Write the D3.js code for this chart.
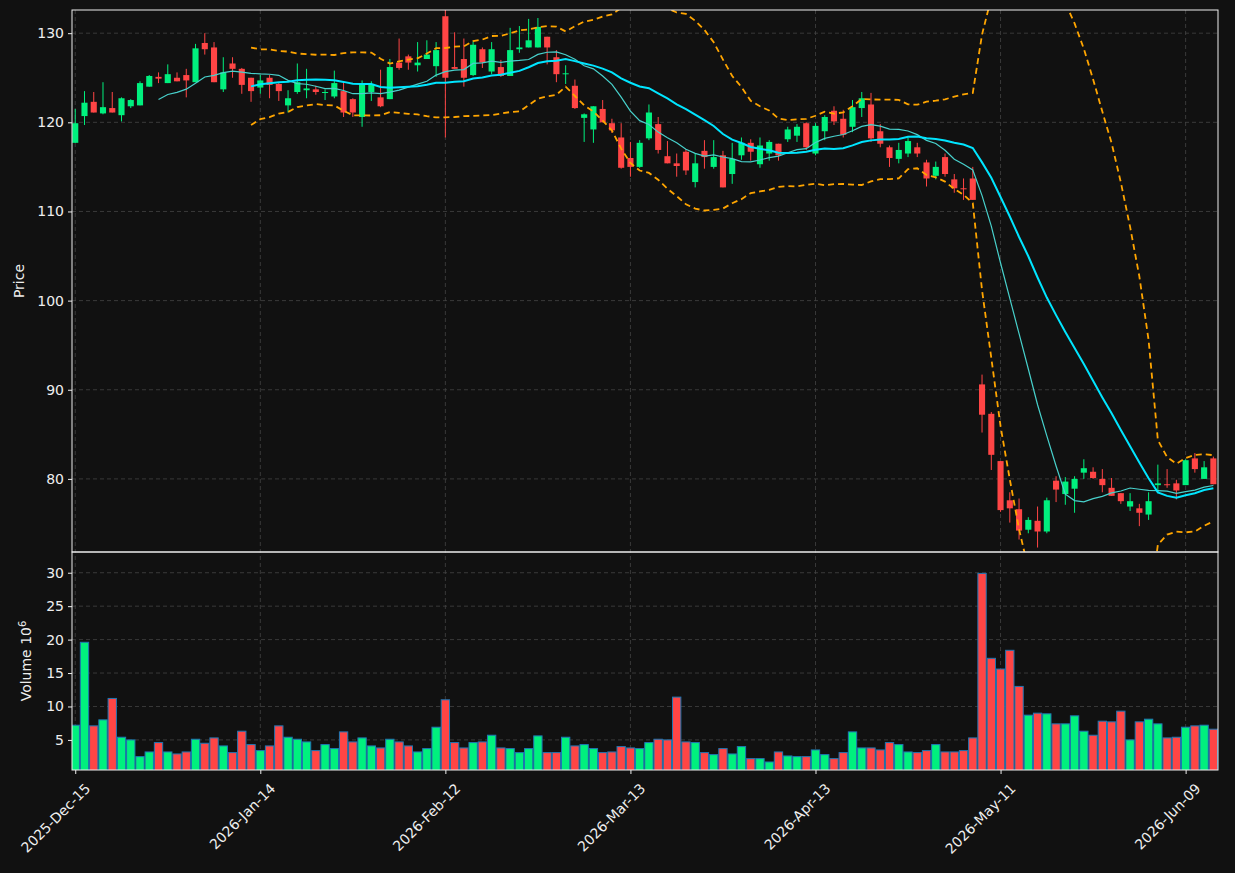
<!DOCTYPE html>
<html><head><meta charset="utf-8">
<script src="https://cdn.jsdelivr.net/npm/d3@7"></script>
<style>body{margin:0;background:#111111;}text{font-family:"DejaVu Sans",sans-serif;}</style>
</head><body>
<svg id="chart" width="1235" height="873"></svg>
<script>
var opens = [117.7,120.7,122.3,121.0,121.6,120.8,121.8,121.9,124.0,125.1,124.4,125.0,125.3,124.5,128.9,128.4,123.7,126.6,126.0,125.0,
  123.9,125.0,124.3,121.9,123.4,123.6,123.7,123.3,122.9,123.5,122.6,120.6,123.4,122.8,122.6,126.7,127.4,126.4,127.1,126.3,
  131.9,126.2,127.1,125.3,128.2,125.7,126.2,125.2,128.2,128.4,128.4,129.6,127.3,125.4,124.1,120.5,119.2,121.5,119.9,118.3,
  116.0,115.0,118.2,119.8,116.2,115.4,116.7,113.3,116.8,115.0,116.3,114.2,116.3,117.7,115.3,116.5,117.6,118.1,118.5,119.9,
  116.5,119.0,121.3,120.4,119.5,121.6,122.0,119.0,117.2,115.9,116.5,117.2,115.5,114.0,116.1,113.6,112.6,113.7,90.6,87.3,
  82.0,77.6,76.6,74.3,75.3,74.1,79.8,78.3,78.9,80.7,80.8,80.0,79.0,78.4,76.9,76.7,76.0,79.3,79.4,79.5,
  79.3,82.3,80.0,82.3];
var closes = [119.9,122.2,121.1,121.7,121.1,122.7,122.5,124.4,125.2,124.9,125.4,124.6,124.7,128.3,128.2,124.5,125.6,126.0,124.2,123.5,
  124.7,124.2,123.5,122.7,124.5,123.8,123.4,123.4,124.4,121.1,121.1,124.4,124.3,121.8,126.2,126.1,126.7,126.7,127.6,128.1,
  125.0,126.0,125.0,128.7,126.7,128.2,125.2,128.1,128.4,129.2,130.7,128.4,125.4,125.5,121.6,120.9,121.8,120.0,119.1,114.9,
  115.0,117.7,121.1,116.9,115.4,115.1,114.6,115.4,116.1,116.1,112.7,115.9,117.7,116.7,117.4,117.8,116.3,119.2,119.5,117.2,
  119.6,120.6,120.1,118.6,121.7,122.7,118.2,117.6,116.0,116.9,117.9,116.5,113.7,115.0,114.2,112.6,112.5,111.3,87.2,82.7,
  76.5,76.7,74.2,75.4,74.1,77.6,78.8,79.7,80.0,81.2,80.1,79.3,78.1,77.5,77.5,76.2,77.5,79.5,79.3,78.7,
  82.1,81.1,81.3,79.4];
var highs = [121.5,123.5,123.4,124.5,123.4,122.8,122.6,124.6,125.3,125.6,126.5,125.6,126.0,128.8,130.0,129.0,127.3,127.3,126.1,125.0,
  125.3,125.3,124.4,123.6,126.6,126.0,124.1,123.7,125.8,124.6,122.7,124.7,124.6,125.9,127.1,129.4,127.6,129.0,129.2,129.0,
  133.0,130.1,129.4,129.1,128.4,129.0,127.0,130.6,130.8,131.6,131.7,129.6,128.1,126.4,124.8,121.0,121.8,122.5,120.4,119.9,
  117.8,118.0,122.0,120.6,117.9,116.5,117.0,116.5,118.0,118.0,116.8,117.7,118.3,118.1,118.3,118.0,117.6,119.5,119.8,120.0,
  119.9,120.8,121.8,121.4,122.5,123.4,123.3,119.8,117.4,117.7,118.3,117.7,115.8,115.6,116.5,114.2,113.7,115.0,91.7,87.5,
  82.0,78.5,77.8,75.7,76.9,77.9,80.3,80.2,80.3,82.2,81.3,81.1,80.1,78.4,78.4,77.2,78.5,81.6,81.1,79.9,
  82.2,82.9,82.0,82.5];
var lows = [117.7,119.7,121.1,120.9,121.1,120.1,121.6,121.9,124.0,124.4,124.4,124.6,122.8,124.5,127.6,124.5,123.4,125.0,123.2,122.3,
  123.2,122.7,122.4,121.1,123.2,122.7,123.1,122.5,122.7,120.6,120.6,119.5,122.4,121.7,122.6,125.9,125.9,125.7,127.1,125.1,
  118.3,126.0,124.0,125.2,126.1,125.4,125.1,127.6,127.8,128.4,128.4,126.5,124.5,124.3,121.5,117.8,117.7,120.0,118.8,114.8,
  113.9,114.9,118.0,116.5,115.4,113.9,114.1,112.7,114.8,114.8,112.7,113.1,115.8,115.7,114.9,115.7,115.7,117.8,117.8,116.9,
  116.3,118.0,119.7,118.3,118.9,120.6,117.8,117.2,115.0,115.4,116.1,116.1,112.8,113.6,113.9,112.1,111.3,111.3,85.2,81.0,
  76.3,75.1,73.2,73.9,72.3,73.9,77.4,77.1,76.2,80.0,80.0,78.5,78.1,77.2,76.4,74.7,75.4,78.4,79.0,77.7,
  79.3,80.7,80.0,79.4];
var volumes = [7.2,19.6,7.1,8.0,11.2,5.4,5.0,2.5,3.2,4.6,3.2,2.9,3.2,5.1,4.5,5.3,4.1,3.1,6.3,4.3,
  3.4,4.1,7.1,5.4,5.1,4.7,3.4,4.3,3.7,6.2,4.7,5.3,4.1,3.8,5.1,4.7,4.1,3.2,3.7,6.9,
  11.0,4.6,3.8,4.6,4.7,5.7,3.8,3.7,3.1,3.7,5.6,3.1,3.1,5.4,4.1,4.3,3.7,3.1,3.2,4.0,
  3.8,3.7,4.6,5.1,5.0,11.4,4.7,4.6,3.1,2.8,3.7,2.9,4.0,2.2,2.2,1.7,3.2,2.6,2.5,2.5,
  3.5,2.8,2.2,3.1,6.2,3.8,3.8,3.5,4.6,4.3,3.2,3.1,3.4,4.3,3.2,3.2,3.4,5.3,29.9,17.2,
  15.6,18.4,13.0,8.7,9.0,8.9,7.4,7.4,8.6,6.3,5.7,7.8,7.7,9.3,5.0,7.7,8.1,7.4,5.3,5.4,
  6.9,7.1,7.2,6.6];
var tickIdx = [0, 20, 40, 60, 80, 100, 120];
var tickLabels = ["2025-Dec-15","2026-Jan-14","2026-Feb-12","2026-Mar-13","2026-Apr-13","2026-May-11","2026-Jun-09"];
var priceTicks = [80, 90, 100, 110, 120, 130];
var volTicks = [5, 10, 15, 20, 25, 30];

var up = "#00f07e", down = "#ff4545", grid = "#444";
var L = 72, R = 1218, T = 10, M = 552, B = 770;
var svg = d3.select("#chart");
svg.append("rect").attr("width", 1235).attr("height", 873).attr("fill", "#111111");

var n = closes.length;
var x = d3.scaleLinear().domain([-0.35, n - 0.5]).range([L, R]);
var y = d3.scaleLinear().domain([71.8, 132.6]).range([M, T]);
var yv = d3.scaleLinear().domain([0.5, 33.1]).range([B, M]);
var step = x(1) - x(0);

var defs = svg.append("defs");
defs.append("clipPath").attr("id", "cp").append("rect").attr("x", L).attr("y", T).attr("width", R - L).attr("height", M - T);
defs.append("clipPath").attr("id", "cv").append("rect").attr("x", L).attr("y", M).attr("width", R - L).attr("height", B - M);

// grids
function gridLines(yScale, ticks) {
  svg.append("g").selectAll("line").data(ticks).join("line")
    .attr("x1", L).attr("x2", R).attr("y1", d => yScale(d)).attr("y2", d => yScale(d))
    .attr("stroke", grid).attr("stroke-dasharray", "4,3").attr("stroke-width", 0.8);
}
gridLines(y, priceTicks);
gridLines(yv, volTicks);
svg.append("g").selectAll("line").data(tickIdx).join("line")
  .attr("x1", d => x(d)).attr("x2", d => x(d)).attr("y1", T).attr("y2", B)
  .attr("stroke", grid).attr("stroke-dasharray", "4,3").attr("stroke-width", 0.8);

var idx = d3.range(n);

// volume
svg.append("g").attr("clip-path", "url(#cv)").selectAll("rect").data(idx).join("rect")
  .attr("x", i => x(i) - step * 0.45).attr("width", step * 0.9)
  .attr("y", i => yv(volumes[i])).attr("height", i => B - yv(volumes[i]) + 2)
  .attr("fill", i => closes[i] >= opens[i] ? up : down)
  .attr("stroke", "#1f77b4").attr("stroke-width", 1);

// candles
var pc = svg.append("g").attr("clip-path", "url(#cp)");
pc.selectAll("line.w").data(idx).join("line").attr("class", "w")
  .attr("x1", i => x(i)).attr("x2", i => x(i))
  .attr("y1", i => y(highs[i])).attr("y2", i => y(lows[i]))
  .attr("stroke", i => closes[i] >= opens[i] ? up : down).attr("stroke-width", 1);
pc.selectAll("rect").data(idx).join("rect")
  .attr("x", i => x(i) - step * 0.33).attr("width", step * 0.66)
  .attr("y", i => y(Math.max(opens[i], closes[i])))
  .attr("height", i => Math.max(1, Math.abs(y(opens[i]) - y(closes[i]))))
  .attr("fill", i => closes[i] >= opens[i] ? up : down);

// moving averages and bands
function ma(k) {
  return idx.map(i => i < k - 1 ? null : d3.mean(closes.slice(i - k + 1, i + 1)));
}
var ma10 = ma(10), ma20 = ma(20);
var sd20 = idx.map(i => i < 19 ? null : d3.deviation(closes.slice(i - 19, i + 1)) * Math.sqrt(19 / 20));
var line = d3.line().defined(d => d[1] != null).x(d => x(d[0])).y(d => y(d[1]));
function draw(vals, color, w, dash) {
  pc.append("path").attr("d", line(vals.map((v, i) => [i, v])))
    .attr("fill", "none").attr("stroke", color).attr("stroke-width", w)
    .attr("stroke-dasharray", dash || null);
}
draw(ma10, "#48d1cc", 1.2);
draw(ma20, "#00e5ff", 2);
draw(ma20.map((m, i) => m == null ? null : m + 2 * sd20[i]), "#ffa500", 1.8, "6,4");
draw(ma20.map((m, i) => m == null ? null : m - 2 * sd20[i]), "#ffa500", 1.8, "6,4");

// frames
[[T, M], [M, B]].forEach(p => {
  svg.append("rect").attr("x", L).attr("y", p[0]).attr("width", R - L).attr("height", p[1] - p[0])
    .attr("fill", "none").attr("stroke", "#eee").attr("stroke-width", 1);
});

// axes
function leftAxis(scale, ticks) {
  var g = svg.append("g").attr("transform", "translate(" + L + ",0)")
    .call(d3.axisLeft(scale).tickValues(ticks).tickSize(4).tickPadding(4));
  g.select(".domain").remove();
  g.selectAll("line").attr("stroke", "#eee");
  g.selectAll("text").attr("fill", "#eee").style("font-size", "14px");
}
leftAxis(y, priceTicks);
leftAxis(yv, volTicks);
var xa = svg.append("g").attr("transform", "translate(0," + B + ")")
  .call(d3.axisBottom(x).tickValues(tickIdx).tickFormat((d, i) => tickLabels[i]).tickSize(4));
xa.select(".domain").remove();
xa.selectAll("line").attr("stroke", "#eee");
xa.selectAll("text").attr("fill", "#eee").style("font-size", "14px")
  .attr("text-anchor", "end").attr("x", 0).attr("y", 0).attr("dy", "0.35em")
  .attr("transform", "translate(12,16) rotate(-45)");

svg.append("text").attr("transform", "translate(24," + ((T + M) / 2) + ") rotate(-90)")
  .attr("text-anchor", "middle").attr("fill", "#eee").style("font-size", "14px").text("Price");
var vl = svg.append("text").attr("transform", "translate(31," + ((M + B) / 2) + ") rotate(-90)")
  .attr("text-anchor", "middle").attr("fill", "#eee").style("font-size", "14px");
vl.append("tspan").text("Volume  10");
vl.append("tspan").attr("dy", "-0.5em").style("font-size", "10px").text("6");
</script>
</body></html>
